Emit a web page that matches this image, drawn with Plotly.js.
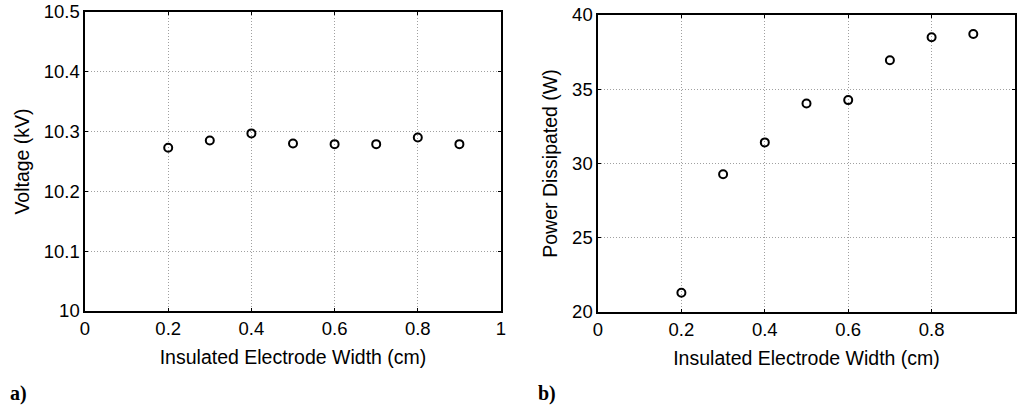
<!DOCTYPE html>
<html><head><meta charset="utf-8">
<script src="https://cdn.plot.ly/plotly-3.0.1.min.js"></script>
<style>html,body{margin:0;padding:0;background:#fff}#chart{width:1017px;height:406px}</style>
</head><body><div id="chart"></div>
<script>
const widths = [0.2, 0.3, 0.4, 0.5, 0.6, 0.7, 0.8, 0.9];
const voltage = [10.273, 10.285, 10.297, 10.280, 10.279, 10.279, 10.290, 10.279];
const power = [21.3, 29.28, 31.42, 34.04, 34.27, 36.95, 38.5, 38.72];
const xTicks = [0, 0.2, 0.4, 0.6, 0.8, 1];
const xTickText = ['0', '0.2', '0.4', '0.6', '0.8', '1'];
const vTicks = [10, 10.1, 10.2, 10.3, 10.4, 10.5];
const vTickText = ['10', '10.1', '10.2', '10.3', '10.4', '10.5'];
const pTicks = [20, 25, 30, 35, 40];
const pTickText = ['20', '25', '30', '35', '40'];

const W = 1017, H = 406;
const marker = {symbol: 'circle-open', size: 8, color: '#000', line: {width: 2, color: '#000'}};
const tickFont = {family: 'Liberation Sans, Arial, sans-serif', size: 18.5, color: '#000'};
const titleFont = {family: 'Liberation Sans, Arial, sans-serif', size: 19.5, color: '#000'};

const traces = [
  {x: widths, y: voltage, mode: 'markers', type: 'scatter', marker: marker, xaxis: 'x', yaxis: 'y', hoverinfo: 'none'},
  {x: widths, y: power, mode: 'markers', type: 'scatter', marker: marker, xaxis: 'x2', yaxis: 'y2', hoverinfo: 'none'}
];

function xax(domain, anchor) {
  return {domain: domain, anchor: anchor, range: [0, 1], tickvals: xTicks, ticktext: xTickText,
    showline: true, linewidth: 1.6, linecolor: '#000', mirror: 'allticks', ticks: 'inside', ticklen: 3,
    tickcolor: '#000', showgrid: true, gridcolor: '#a0a0a0', griddash: '1px,2px', gridwidth: 1,
    zeroline: false, tickfont: tickFont, fixedrange: true,
    title: {text: 'Insulated Electrode Width (cm)', font: titleFont, standoff: 12}};
}
function yax(domain, anchor, range, vals, text, title) {
  return {domain: domain, anchor: anchor, range: range, tickvals: vals, ticktext: text,
    showline: true, linewidth: 1.6, linecolor: '#000', mirror: 'allticks', ticks: 'inside', ticklen: 3,
    tickcolor: '#000', showgrid: true, gridcolor: '#a0a0a0', griddash: '1px,2px', gridwidth: 1,
    zeroline: false, tickfont: tickFont, fixedrange: true,
    title: {text: title, font: titleFont, standoff: 9}};
}

const layout = {
  width: W, height: H, margin: {l: 0, r: 0, t: 0, b: 0},
  paper_bgcolor: '#fff', plot_bgcolor: '#fff', showlegend: false, font: tickFont,
  xaxis: xax([85 / W, 501 / W], 'y'),
  yaxis: yax([1 - 311 / H, 1 - 12 / H], 'x', [10, 10.5], vTicks, vTickText, 'Voltage (kV)'),
  xaxis2: xax([598 / W, 1015 / W], 'y2'),
  yaxis2: yax([1 - 312 / H, 1 - 15 / H], 'x2', [20, 40], pTicks, pTickText, 'Power Dissipated (W)'),
  annotations: [
    {text: '<b>a)</b>', xref: 'paper', yref: 'paper', x: 8 / W, y: 1 - 393 / H, xanchor: 'left', yanchor: 'middle', showarrow: false,
      font: {family: 'Liberation Serif, Times New Roman, serif', size: 20, color: '#000'}},
    {text: '<b>b)</b>', xref: 'paper', yref: 'paper', x: 536 / W, y: 1 - 393 / H, xanchor: 'left', yanchor: 'middle', showarrow: false,
      font: {family: 'Liberation Serif, Times New Roman, serif', size: 20, color: '#000'}}
  ]
};
Plotly.newPlot('chart', traces, layout, {displayModeBar: false, staticPlot: true});
</script></body></html>
